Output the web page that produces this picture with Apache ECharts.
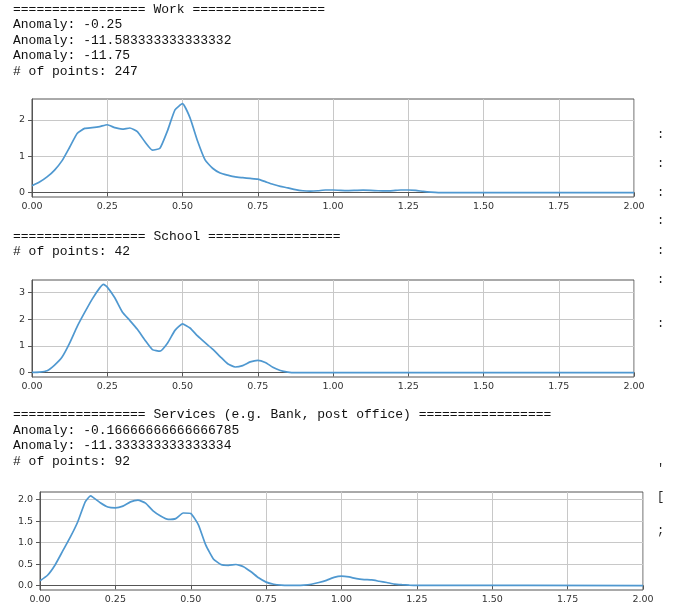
<!DOCTYPE html>
<html>
<head>
<meta charset="utf-8">
<script src="https://cdn.jsdelivr.net/npm/echarts@6/dist/echarts.min.js"></script>
<style>
html,body{margin:0;padding:0;background:#fff;}
#c{width:679px;height:606px;}
</style>
</head>
<body>
<div id="c"></div>
<script>
// ---- console text ----
const workText = [
  "================= Work =================",
  "Anomaly: -0.25",
  "Anomaly: -11.583333333333332",
  "Anomaly: -11.75",
  "# of points: 247"
];
const schoolText = [
  "================= School =================",
  "# of points: 42"
];
const servicesText = [
  "================= Services (e.g. Bank, post office) =================",
  "Anomaly: -0.16666666666666785",
  "Anomaly: -11.333333333333334",
  "# of points: 92"
];

// ---- tick labels ----
const xTicks = [0, 0.25, 0.5, 0.75, 1, 1.25, 1.5, 1.75, 2];
const workYTicks = [0, 1, 2];
const schoolYTicks = [0, 1, 2, 3];
const servicesYTicks = [0, 0.5, 1, 1.5, 2];

// ---- series data ----
const workX = [0,0.025,0.05,0.075,0.1,0.125,0.15,0.175,0.2,0.225,0.25,0.275,0.3,0.325,0.35,0.375,0.4,0.425,0.45,0.475,0.5,0.525,0.55,0.575,0.6,0.625,0.65,0.675,0.7,0.725,0.75,0.775,0.8,0.825,0.85,0.875,0.9,0.925,0.95,0.975,1,1.025,1.05,1.075,1.1,1.125,1.15,1.175,1.2,1.225,1.25,1.275,1.3,1.325,1.35,2];
const workY = [0.19,0.29,0.43,0.62,0.88,1.25,1.63,1.77,1.79,1.82,1.87,1.79,1.75,1.78,1.68,1.40,1.17,1.22,1.70,2.28,2.45,2.06,1.42,0.90,0.67,0.54,0.48,0.43,0.41,0.39,0.37,0.30,0.23,0.17,0.13,0.08,0.05,0.04,0.05,0.07,0.07,0.06,0.055,0.06,0.065,0.06,0.05,0.045,0.055,0.07,0.07,0.06,0.03,0.01,0.0,0.0];

const schoolX = [0,0.025,0.05,0.075,0.1,0.125,0.15,0.175,0.2,0.225,0.2375,0.25,0.275,0.3,0.325,0.35,0.375,0.4,0.425,0.45,0.475,0.5,0.525,0.55,0.575,0.6,0.625,0.65,0.675,0.7,0.725,0.75,0.775,0.8,0.825,0.85,0.875,2];
const schoolY = [0.01,0.02,0.07,0.28,0.58,1.10,1.72,2.25,2.75,3.17,3.30,3.20,2.80,2.27,1.95,1.62,1.22,0.86,0.80,1.10,1.58,1.82,1.67,1.37,1.12,0.88,0.60,0.33,0.21,0.26,0.40,0.46,0.38,0.20,0.08,0.02,0.0,0.0];

const servicesX = [0,0.025,0.05,0.075,0.1,0.125,0.15,0.1675,0.175,0.2,0.225,0.25,0.275,0.3,0.325,0.35,0.375,0.4,0.425,0.45,0.475,0.5,0.525,0.55,0.575,0.6,0.625,0.65,0.675,0.7,0.725,0.75,0.775,0.8,0.825,0.85,0.875,0.9,0.925,0.95,0.975,1,1.025,1.05,1.075,1.1,1.125,1.15,1.175,1.2,1.225,1.25,2];
const servicesY = [0.11,0.24,0.48,0.80,1.12,1.48,1.95,2.09,2.06,1.93,1.83,1.81,1.85,1.95,1.99,1.92,1.74,1.62,1.54,1.56,1.69,1.68,1.42,0.94,0.62,0.49,0.47,0.49,0.44,0.32,0.18,0.08,0.03,0.01,0.005,0.005,0.01,0.03,0.07,0.12,0.19,0.22,0.20,0.16,0.14,0.13,0.10,0.07,0.035,0.02,0.01,0.005,0.0];

// clipped characters visible at the right edge of the screenshot
const edgeGlyphs = [":", ":", ":", ":", ":", ":", ":", "'", "[", ";"];
const edgeGlyphY = [136, 165, 194, 222, 252, 281, 325, 470, 498, 532];

function zip(xs, ys){ return xs.map((x,i)=>[x, ys[i]]); }

const chart = echarts.init(document.getElementById('c'), null, {renderer:'canvas'});

const LINE = '#4f98d0';
const FRAME = '#555555';
const GRIDC = '#c8c8c8';
const LABEL = '#333333';
const TICKFONT = 'DejaVu Sans';

function makeX(idx){
  return {
    type:'value', gridIndex: idx, min:0, max:2, interval:0.25,
    axisLine:{show:true, lineStyle:{color:FRAME, width:1}},
    axisTick:{show:true, inside:false, length:4, lineStyle:{color:FRAME}},
    axisLabel:{color:LABEL, fontFamily:TICKFONT, fontSize:9.5, margin:5,
      formatter:(v)=>v.toFixed(2)},
    splitLine:{show:true, lineStyle:{color:GRIDC, width:1}}
  };
}
function makeY(idx, min, max, ticks, dec){
  return {
    type:'value', gridIndex: idx, min:min, max:max,
    axisLine:{show:true, lineStyle:{color:FRAME, width:1}},
    axisTick:{show:true, inside:false, length:4, lineStyle:{color:FRAME}, customValues: ticks},
    axisLabel:{color:LABEL, fontFamily:TICKFONT, fontSize:9.5, margin:7, customValues: ticks,
      formatter:(v)=>v.toFixed(dec)},
    splitLine:{show:true, lineStyle:{color:GRIDC, width:1}}
  };
}

const textGraphics = [];
function addLines(lines, y0, step){
  lines.forEach((t,i)=>{
    textGraphics.push({
      type:'text', left:13, top: y0 + i*step - 7,
      style:{text:t, font:'13px "Liberation Mono", "DejaVu Sans Mono", monospace', fill:'#111111'}
    });
  });
}
addLines(workText, 10, 15.5);
addLines(schoolText, 237, 15.5);
addLines(servicesText, 415, 15.7);
edgeGlyphs.forEach((g,i)=>{
  textGraphics.push({
    type:'text', left:657, top: edgeGlyphY[i] - 7,
    style:{text:g, font:'12px "Liberation Mono", monospace', fill:'#222222'}
  });
});

const option = {
  backgroundColor:'#ffffff',
  animation:false,
  graphic: textGraphics,
  grid:[
    {left:32, top:99, width:602, height:98, show:true, borderColor:FRAME, borderWidth:1, backgroundColor:'transparent'},
    {left:32, top:280, width:602, height:97, show:true, borderColor:FRAME, borderWidth:1, backgroundColor:'transparent'},
    {left:40, top:492, width:603, height:98, show:true, borderColor:FRAME, borderWidth:1, backgroundColor:'transparent'}
  ],
  xAxis:[makeX(0), makeX(1), makeX(2)],
  yAxis:[
    makeY(0, -0.123, 2.58, workYTicks, 0),
    makeY(1, -0.165, 3.465, schoolYTicks, 0),
    makeY(2, -0.104, 2.18, servicesYTicks, 1)
  ],
  series:[
    {type:'line', xAxisIndex:0, yAxisIndex:0, data: zip(workX, workY), showSymbol:false, smooth:0.15, lineStyle:{color:LINE, width:1.7}},
    {type:'line', xAxisIndex:1, yAxisIndex:1, data: zip(schoolX, schoolY), showSymbol:false, smooth:0.15, lineStyle:{color:LINE, width:1.7}},
    {type:'line', xAxisIndex:2, yAxisIndex:2, data: zip(servicesX, servicesY), showSymbol:false, smooth:0.15, lineStyle:{color:LINE, width:1.7}}
  ]
};
chart.setOption(option);
</script>
</body>
</html>
